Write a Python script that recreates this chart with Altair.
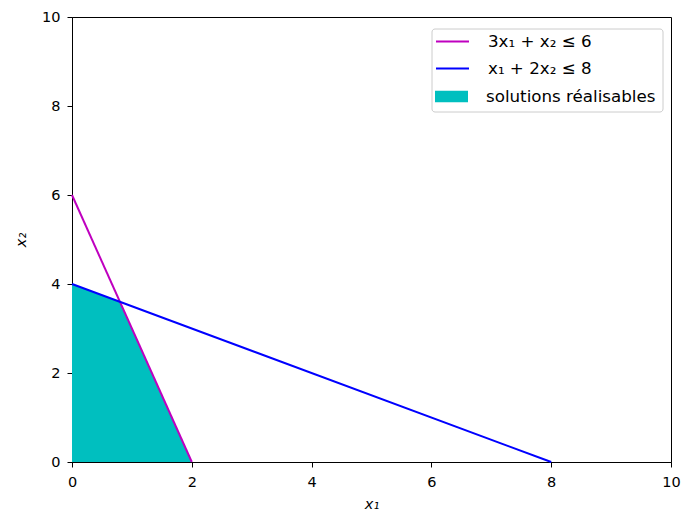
import altair as alt
import pandas as pd

# Constraint lines and feasible region
labels = ["3x₁ + x₂ ≤ 6", "x₁ + 2x₂ ≤ 8", "solutions réalisables"]
colors = ["#bf00bf", "#0000ff", "#00bfbf"]

line1_x = [0, 2]
line1_y = [6, 0]
line2_x = [0, 8]
line2_y = [4, 0]

# Feasible region upper boundary (lower boundary is x2 = 0)
region_x = [0, 0.8, 2]
region_y = [4, 3.6, 0]

ticks = [0, 2, 4, 6, 8, 10]

lines_df = pd.DataFrame({
    "x": line1_x + line2_x,
    "y": line1_y + line2_y,
    "label": [labels[0]] * len(line1_x) + [labels[1]] * len(line2_x),
})
region_df = pd.DataFrame({"x": region_x, "y": region_y, "label": [labels[2]] * len(region_x)})

FONT = "DejaVu Sans"
FS = 14.5
LFS = 16.7

xs = alt.Scale(domain=[0, 10], nice=False, zero=False)
ys = alt.Scale(domain=[0, 10], nice=False, zero=False)

common_legend = dict(
    title=None,
    orient="none",
    padding=0,
    labelFont=FONT,
    labelFontSize=LFS,
    labelColor="black",
    labelLimit=400,
    labelOffset=18,
    symbolSize=1089,
    rowPadding=-1,
)

axis_common = dict(values=ticks, format="d", grid=False, labelFlush=False,
                   titleFontStyle="italic", titleFont=FONT, titleFontSize=FS,
                   titleFontWeight="normal", titleColor="black",
                   labelFont=FONT, labelFontSize=FS, labelColor="black",
                   domainColor="black", tickColor="black", tickSize=5)

x_axis = alt.Axis(title="x₁", labelPadding=8, titlePadding=9, **axis_common)
y_axis = alt.Axis(title="x₂", labelPadding=7, titlePadding=13, **axis_common)

area = alt.Chart(region_df).mark_area(opacity=1).encode(
    x=alt.X("x:Q", scale=xs, axis=x_axis),
    y=alt.Y("y:Q", scale=ys, axis=y_axis),
    y2=alt.datum(0),
    fill=alt.Fill(
        "label:N",
        scale=alt.Scale(domain=labels[2:], range=colors[2:]),
        legend=alt.Legend(legendX=363, legendY=63,
                          symbolType="M-1,-0.35H1V0.35H-1Z",
                          symbolStrokeWidth=0, symbolOpacity=1, **common_legend),
    ),
)

lines = alt.Chart(lines_df).mark_line(strokeWidth=2).encode(
    x=alt.X("x:Q", scale=xs),
    y=alt.Y("y:Q", scale=ys),
    stroke=alt.Stroke(
        "label:N",
        scale=alt.Scale(domain=labels[:2], range=colors[:2]),
        legend=alt.Legend(legendX=363, legendY=7, symbolType="stroke",
                          symbolStrokeWidth=2, symbolOpacity=1, **common_legend),
    ),
)

frame = alt.Chart(pd.DataFrame({"k": [0]})).mark_rect(
    fill="white", stroke="#cccccc", strokeWidth=1, cornerRadius=3
).encode(x=alt.value(360), x2=alt.value(591), y=alt.value(12), y2=alt.value(95))

chart = alt.layer(area, lines, frame).properties(
    width=599,
    height=445,
    background="white",
    padding={"left": 72, "top": 17, "right": 12, "bottom": 54},
    autosize=alt.AutoSizeParams(type="none"),
).configure_view(stroke="black", strokeWidth=1)

chart.save("out.html", embed_options={"renderer": "svg", "actions": False})
